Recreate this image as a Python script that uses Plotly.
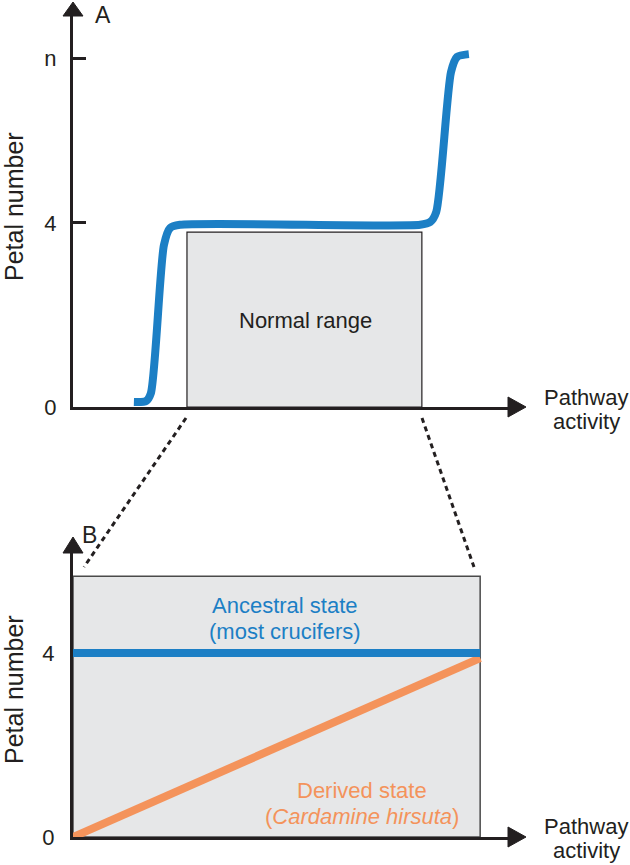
import plotly.graph_objects as go

W, H = 630, 865
H_EFF = 852  # rendered vertical extent observed for this page

# ---------------- data ----------------
# Panel A: petal number vs pathway activity (arbitrary activity units 0-10)
curve_x = [1.40, 1.68, 1.79, 2.09, 2.23, 2.46, 7.98, 8.21, 8.35, 8.69, 8.83, 9.10]
curve_y = [0.11, 0.13, 0.30, 3.52, 3.89, 3.96, 3.96, 4.02, 4.24, 7.28, 7.61, 7.67]
normal_range = [2.62, 8.02]
normal_top = 3.80
tick_vals_a = [0, 4, 7.57]
tick_text_a = ["0", "4", "n"]

# Panel B: zoom on the normal range
b_x = [0, 9.36]
ancestral_y = [4, 4]
derived_y = [0, 3.89]
b_box_top = 5.67
tick_vals_b = [0, 4]
tick_text_b = ["0", "4"]

BLUE = "#1c7fc5"
ORANGE = "#f4935b"
GREY = "#e6e7e8"
INK = "#231f20"
FONT = "Liberation Sans, Arial, Helvetica, sans-serif"
FS = 22


def px(x):
    return x / W


def py(y):
    return 1 - y / H_EFF


fig = go.Figure()

fig.add_trace(go.Scatter(
    x=curve_x, y=curve_y, mode="lines", xaxis="x", yaxis="y",
    line=dict(color=BLUE, width=8, shape="spline", smoothing=0.7),
    hoverinfo="skip", showlegend=False))

fig.add_trace(go.Scatter(
    x=b_x, y=derived_y, mode="lines", xaxis="x2", yaxis="y2",
    line=dict(color=ORANGE, width=8), hoverinfo="skip", showlegend=False))
fig.add_trace(go.Scatter(
    x=b_x, y=ancestral_y, mode="lines", xaxis="x2", yaxis="y2",
    line=dict(color=BLUE, width=8), hoverinfo="skip", showlegend=False))

axis_common = dict(showgrid=False, zeroline=False, showline=True,
                   linecolor=INK, linewidth=3, fixedrange=True)

fig.update_layout(
    width=W, height=H, autosize=False,
    margin=dict(l=0, r=0, t=0, b=0),
    paper_bgcolor="white", plot_bgcolor="rgba(0,0,0,0)",
    font=dict(family=FONT, size=FS, color=INK),
    showlegend=False,
    xaxis=dict(domain=[px(73), px(508)], range=[0, 10], anchor="y",
               showticklabels=False, ticks="", **axis_common),
    yaxis=dict(domain=[py(407), py(15)], range=[0, 8.52], anchor="x",
               tickvals=tick_vals_a, ticktext=tick_text_a, ticks="inside",
               ticklen=13, tickwidth=2.5, tickcolor=INK,
               ticklabelstandoff=9, tickfont=dict(size=FS, color=INK),
               **axis_common),
    xaxis2=dict(domain=[px(73), px(508)], range=[0, 10], anchor="y2",
                showticklabels=False, ticks="", **axis_common),
    yaxis2=dict(domain=[py(837), py(553)], range=[0, 6.174], anchor="x2",
                tickvals=tick_vals_b, ticktext=tick_text_b, ticks="",
                ticklabelstandoff=11, tickfont=dict(size=FS, color=INK),
                **axis_common),
)

shapes = []
# grey boxes
shapes.append(dict(type="rect", xref="x", yref="y",
                   x0=normal_range[0], x1=normal_range[1], y0=0, y1=normal_top,
                   fillcolor=GREY, line=dict(color=INK, width=1.2), layer="below"))
shapes.append(dict(type="rect", xref="x2", yref="y2",
                   x0=b_x[0], x1=b_x[1], y0=0, y1=b_box_top,
                   fillcolor=GREY, line=dict(color="#4a4a4a", width=1.5), layer="below"))


def tri(p1, p2, p3):
    return dict(type="path", xref="paper", yref="paper",
                path=f"M {px(p1[0])},{py(p1[1])} L {px(p2[0])},{py(p2[1])} L {px(p3[0])},{py(p3[1])} Z",
                fillcolor=INK, line=dict(color=INK, width=1))


# arrowheads
shapes.append(tri((73, 2), (63, 16), (83, 16)))
shapes.append(tri((526, 407), (508, 397), (508, 417)))
shapes.append(tri((73, 537), (63, 553), (83, 553)))
shapes.append(tri((526, 837), (508, 827), (508, 847)))

# dashed connectors
for (x0, y0, x1, y1) in [(186, 418, 84, 567), (422, 418, 474, 567)]:
    shapes.append(dict(type="line", xref="paper", yref="paper",
                       x0=px(x0), y0=py(y0), x1=px(x1), y1=py(y1),
                       line=dict(color=INK, width=3, dash="5px,4px")))

fig.update_layout(shapes=shapes)

ann = []


def txt(x, y, s, color=INK, angle=0, size=FS):
    ann.append(dict(x=px(x), y=py(y), xref="paper", yref="paper", text=s,
                    showarrow=False, textangle=angle, xanchor="center",
                    yanchor="middle", font=dict(size=size, color=color, family=FONT)))


txt(103, 15, "A", size=23)
txt(89, 535, "B", size=23)
txt(14, 207, "Petal number", angle=-90, size=25)
txt(14, 690, "Petal number", angle=-90, size=25)
txt(586, 397, "Pathway")
txt(586, 421, "activity")
txt(586, 826, "Pathway")
txt(586, 850, "activity")
txt(305, 320, "Normal range")
txt(285, 605, "Ancestral state", color=BLUE)
txt(285, 631, "(most crucifers)", color=BLUE)
txt(362, 790, "Derived state", color=ORANGE)
txt(362, 816, "(<i>Cardamine hirsuta</i>)", color=ORANGE)

fig.update_layout(annotations=ann)

fig.write_html(
    "out.html",
    config={"displayModeBar": False},
    post_script="document.body.style.margin='0';document.body.style.overflow='hidden';",
)
